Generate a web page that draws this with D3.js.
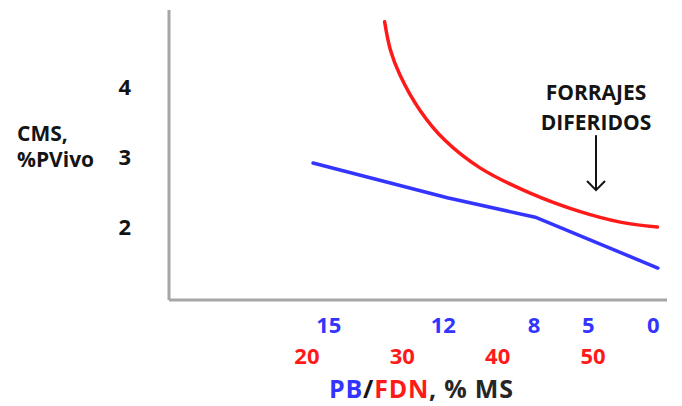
<!DOCTYPE html>
<html><head><meta charset="utf-8">
<script src="https://cdn.jsdelivr.net/npm/d3@7"></script>
<style>body{margin:0;background:#fff}svg{display:block}</style>
</head><body><svg id="c" width="682" height="406"></svg>
<script>
// ---- data ----
const cmsTicks = [2, 3, 4];
const fdnTicks = [20, 30, 40, 50];
const pbTicks = [15, 12, 8, 5, 0];
const pbAsFdn = [22.3, 34.3, 43.8, 49.5, 56.3];   // PB tick equivalents on the FDN scale
const redFdn = [28.2, 28.8, 29.8, 31.9, 34.5, 38.2, 43.4, 48.7, 52.9, 56.8];
const redCms = [4.95, 4.55, 4.19, 3.68, 3.25, 2.85, 2.49, 2.22, 2.07, 2.0];
const bluePb = [15.4, 11.8, 7.9, -0.4];
const blueCms = [2.92, 2.42, 2.14, 1.41];
const yLabel = ["CMS,", "%PVivo"];
const note = ["FORRAJES", "DIFERIDOS"];
const arrowFdn = 50.36, arrowTop = 3.32, arrowTip = 2.53, arrowBarb = 2.66;

const BLUE = "#3434ff", RED = "#ff1a1a", GRAY = "#a6a6a6", INK = "#141414";
const FONT = "'Open Sans', Lato, sans-serif";

const svg = d3.select("#c");
svg.append("rect").attr("width", 682).attr("height", 406).attr("fill", "#fff");

const x = d3.scaleLinear().domain([5.6, 57.8]).range([169, 667]);
const y = d3.scaleLinear().domain([0.95, 5.12]).range([300, 10]);
const pbToFdn = d3.scaleLinear().domain(pbTicks).range(pbAsFdn);

// axis lines
svg.append("line").attr("x1", x.range()[0]).attr("x2", x.range()[0])
  .attr("y1", y.range()[1]).attr("y2", y.range()[0])
  .attr("stroke", GRAY).attr("stroke-width", 3);
svg.append("line").attr("x1", x.range()[0]).attr("x2", x.range()[1])
  .attr("y1", y.range()[0]).attr("y2", y.range()[0])
  .attr("stroke", GRAY).attr("stroke-width", 3);

function styleText(sel, size, fill) {
  sel.attr("font-family", FONT).attr("font-weight", "bold").attr("font-size", size).attr("fill", fill);
}

// y axis labels
const ya = svg.append("g").attr("transform", `translate(${x.range()[0]},0)`)
  .call(d3.axisLeft(y).tickValues(cmsTicks).tickSize(0).tickPadding(38).tickFormat(d3.format("d")));
ya.select(".domain").remove();
styleText(ya.selectAll("text"), 22, INK);

// x axes
const xb = svg.append("g").attr("transform", `translate(0,${y.range()[0]})`)
  .call(d3.axisBottom(x).tickValues(pbAsFdn).tickSize(0).tickPadding(17).tickFormat((d, i) => pbTicks[i]));
xb.select(".domain").remove();
styleText(xb.selectAll("text"), 22, BLUE);

const xr = svg.append("g").attr("transform", `translate(0,${y.range()[0]})`)
  .call(d3.axisBottom(x).tickValues(fdnTicks).tickSize(0).tickPadding(48).tickFormat(d3.format("d")));
xr.select(".domain").remove();
styleText(xr.selectAll("text"), 22, RED);

// y label
const yl = svg.append("text");
styleText(yl, 21, INK);
yLabel.forEach((t, i) => yl.append("tspan").attr("x", 17).attr("y", 141 + i * 26).text(t));

// x title
const xt = svg.append("text").attr("x", 329).attr("y", 398)
  .attr("textLength", 184).attr("lengthAdjust", "spacing");
styleText(xt, 25, INK);
xt.append("tspan").attr("fill", BLUE).text("PB");
xt.append("tspan").attr("fill", INK).text("/");
xt.append("tspan").attr("fill", RED).text("FDN");
xt.append("tspan").attr("fill", "#262626").text(", % MS");

// lines
const redData = redFdn.map((v, i) => [v, redCms[i]]);
const blueData = bluePb.map((v, i) => [pbToFdn(v), blueCms[i]]);
svg.append("path").attr("d", d3.line().x(d => x(d[0])).y(d => y(d[1])).curve(d3.curveCatmullRom)(redData))
  .attr("fill", "none").attr("stroke", RED).attr("stroke-width", 3.5).attr("stroke-linecap", "round");
svg.append("path").attr("d", d3.line().x(d => x(d[0])).y(d => y(d[1]))(blueData))
  .attr("fill", "none").attr("stroke", BLUE).attr("stroke-width", 3.5).attr("stroke-linecap", "round");

// annotation
const nt = svg.append("text").attr("text-anchor", "middle");
styleText(nt, 21, INK);
note.forEach((t, i) => nt.append("tspan").attr("x", x(arrowFdn)).attr("y", 100 + i * 30).text(t));

const ax = x(arrowFdn);
svg.append("line").attr("x1", ax).attr("x2", ax).attr("y1", y(arrowTop)).attr("y2", y(arrowTip))
  .attr("stroke", INK).attr("stroke-width", 2);
svg.append("path").attr("d", `M${ax - 9},${y(arrowBarb)}L${ax},${y(arrowTip)}L${ax + 9},${y(arrowBarb)}`)
  .attr("fill", "none").attr("stroke", INK).attr("stroke-width", 2);
</script>
</body></html>
